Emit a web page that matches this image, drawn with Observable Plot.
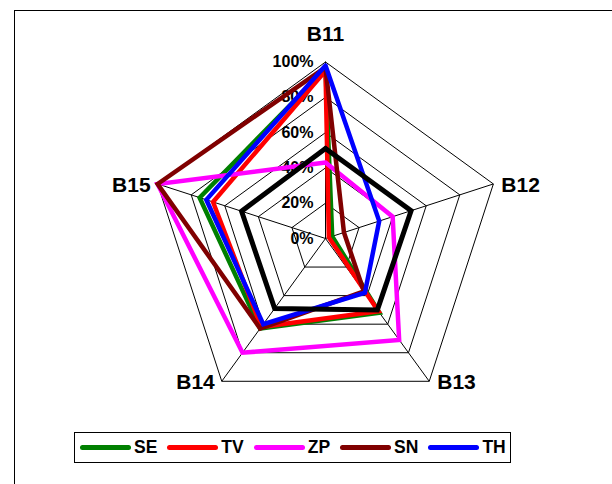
<!DOCTYPE html>
<html>
<head>
<meta charset="utf-8">
<script src="https://cdn.jsdelivr.net/npm/d3@7"></script>
<script src="https://cdn.jsdelivr.net/npm/@observablehq/plot@0.6"></script>
<style>
  html, body { margin: 0; padding: 0; background: #fff; }
  body { width: 612px; height: 484px; overflow: hidden; font-family: "Liberation Sans", Arial, sans-serif; }
  #wrap { position: relative; width: 612px; height: 484px; overflow: hidden; }
  #frame { position: absolute; left: 14px; top: 10px; width: 700px; height: 600px; border: 1px solid #000; }
  #chart { position: absolute; left: 0; top: 0; }
  #legend { position: absolute; left: 74px; top: 432px; width: 437px; height: 31px; box-sizing: border-box;
            border: 1px solid #000; background: #fff; display: flex; align-items: center; padding-left: 5px; }
  .item { display: flex; align-items: center; margin-right: 10px; }
  .swatch { width: 51px; height: 5px; border-radius: 3px; margin-right: 3px; }
  .lab { font-weight: bold; font-size: 17.5px; color: #000; line-height: 1; }
</style>
</head>
<body>
<div id="wrap">
  <div id="frame"></div>
  <div id="chart"></div>
  <div id="legend"></div>
</div>
<script>
// ---- data ----
const categories = ["B11", "B12", "B13", "B14", "B15"];
const tickValues = [0, 20, 40, 60, 80, 100];
const seriesNames = ["SE", "TV", "ZP", "SN", "TH"];
const SE = [96, 4, 52, 63, 75];
const TV = [95, 2, 51, 62, 67];
const ZP = [43, 40, 71, 80, 100];
const SN = [97, 11, 37, 63, 100];
const TH = [98, 32, 38, 60, 71];
const REF = [51, 51, 50, 49, 50];   // black reference line (not in legend)
const seriesColors = ["#008000", "#ff0000", "#ff00ff", "#800000", "#0000ff"];

// ---- geometry helpers ----
const W = 612, H = 484, CX = 325, CY = 238, R = 176.5;
const n = categories.length;
const ang = i => (i % n) * 2 * Math.PI / n;
const px = (v, i) => v * Math.sin(ang(i));
const py = (v, i) => v * Math.cos(ang(i));

const seriesValues = [SE, TV, ZP, SN, TH];
const lineRows = [];
seriesNames.forEach((s, k) => {
  for (let i = 0; i <= n; i++) {
    const v = seriesValues[k][i % n];
    lineRows.push({series: s, x: px(v, i), y: py(v, i)});
  }
});
const refRows = [];
for (let i = 0; i <= n; i++) refRows.push({x: px(REF[i % n], i), y: py(REF[i % n], i)});

const ringRows = [];
tickValues.forEach(t => {
  for (let i = 0; i <= n; i++) ringRows.push({t, x: px(t, i), y: py(t, i)});
});
const maxT = tickValues[tickValues.length - 1];
const spokes = categories.map((c, i) => ({x2: px(maxT, i), y2: py(maxT, i)}));
const catRows = categories.map((c, i) => ({c, i, x: px(maxT, i), y: py(maxT, i)}));

const font = {fontFamily: "Liberation Sans, Arial, sans-serif", fontWeight: "bold", fill: "#000"};

const chart = Plot.plot({
  width: W, height: H,
  margin: 0,
  style: {background: "transparent", overflow: "visible"},
  x: {domain: [-CX / R * 100, (W - CX) / R * 100], range: [0, W], axis: null},
  y: {domain: [-(H - CY) / R * 100, CY / R * 100], range: [H, 0], axis: null},
  color: {domain: seriesNames, range: seriesColors},
  marks: [
    Plot.line(ringRows, {x: "x", y: "y", z: "t", stroke: "#000", strokeWidth: 1}),
    Plot.link(spokes, {x1: () => 0, y1: () => 0, x2: "x2", y2: "y2", stroke: "#000", strokeWidth: 1}),
    Plot.text(tickValues, {x: () => 0, y: d => d, text: d => d + "%", textAnchor: "end", dx: -12,
      fontSize: 16, ...font}),
    Plot.text(catRows.filter(d => d.i === 0), {x: "x", y: "y", text: "c", textAnchor: "middle", dy: -28, fontSize: 21, ...font}),
    Plot.text(catRows.filter(d => d.i > 0 && d.i < n / 2), {x: "x", y: "y", text: "c", textAnchor: "start", dx: 8, dy: 1, fontSize: 21, ...font}),
    Plot.text(catRows.filter(d => d.i > n / 2), {x: "x", y: "y", text: "c", textAnchor: "end", dx: -7, dy: 1, fontSize: 21, ...font}),
    Plot.line(lineRows, {x: "x", y: "y", z: "series", stroke: "series", strokeWidth: 4.5, strokeLinejoin: "miter", strokeMiterlimit: 10, curve: "linear"}),
    Plot.line(refRows, {x: "x", y: "y", stroke: "#000", strokeWidth: 5, strokeLinejoin: "miter", strokeMiterlimit: 10})
  ]
});
document.getElementById("chart").appendChild(chart);

// ---- legend ----
const legend = document.getElementById("legend");
seriesNames.forEach((s, k) => {
  const item = document.createElement("div");
  item.className = "item";
  const sw = document.createElement("div");
  sw.className = "swatch";
  sw.style.background = seriesColors[k];
  const lab = document.createElement("span");
  lab.className = "lab";
  lab.textContent = s;
  item.appendChild(sw);
  item.appendChild(lab);
  legend.appendChild(item);
});
</script>
</body>
</html>
